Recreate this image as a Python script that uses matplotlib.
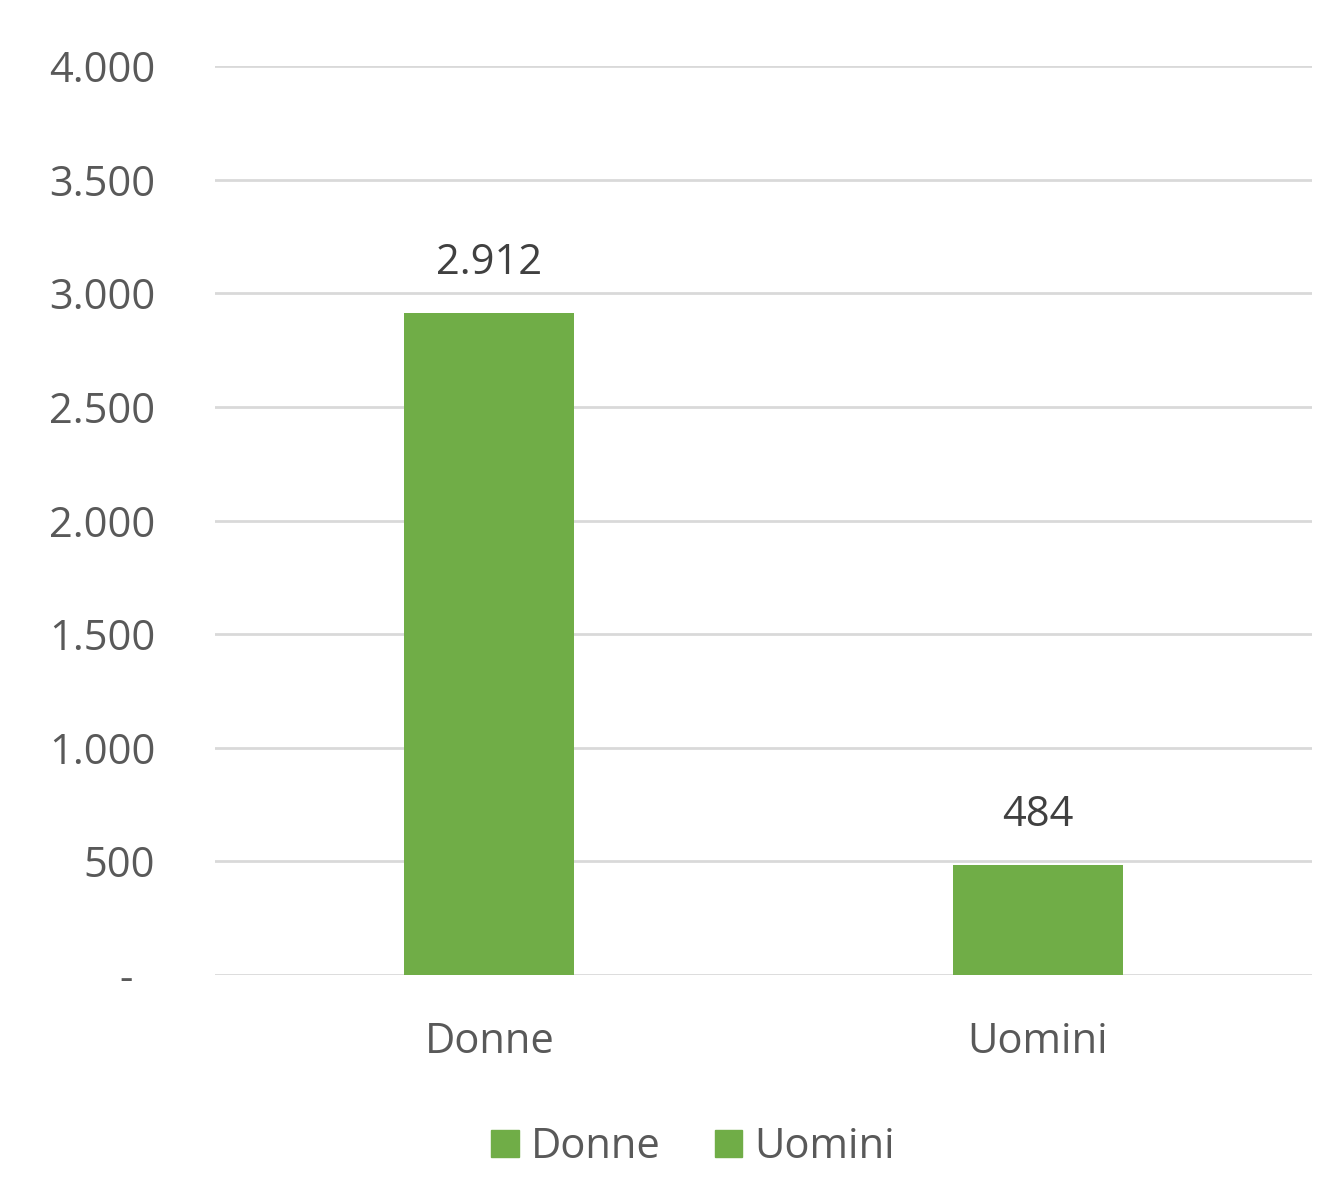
import matplotlib
matplotlib.use("Agg")
import matplotlib.pyplot as plt
from matplotlib.ticker import FuncFormatter
from matplotlib.patches import Patch

categories = ["Donne", "Uomini"]
values = [2912, 484]
yticks = [0, 500, 1000, 1500, 2000, 2500, 3000, 3500, 4000]

green = "#70AD47"
txt = "#595959"
plt.rcParams['font.family'] = ['Open Sans', 'DejaVu Sans']

fig = plt.figure(figsize=(13.36, 11.95), dpi=100)
ax = fig.add_axes([0.161, 0.184, 0.821, 0.7608])

x = list(range(len(categories)))
bars = ax.bar(x, values, width=0.31, color=green, zorder=3)
ax.set_xlim(-0.5, 1.5)
ax.set_ylim(0, 4000)
ax.set_yticks(yticks)

def fmt(v, p):
    if v == 0:
        return "-  "
    return f"{int(v):,}".replace(",", ".")

ax.yaxis.set_major_formatter(FuncFormatter(fmt))
ax.set_xticks(x)
ax.set_xticklabels(categories)
ax.tick_params(axis='both', length=0, labelsize=30, colors=txt)
ax.tick_params(axis='y', pad=43)
ax.tick_params(axis='x', pad=33)
ax.grid(axis='y', color='#D9D9D9', linewidth=2, zorder=0)
for s in ax.spines.values():
    s.set_visible(False)

for b, v in zip(bars, values):
    ax.annotate(fmt(v, None), (b.get_x() + b.get_width() / 2, v),
                xytext=(0, 36), textcoords='offset points',
                ha='center', va='center', fontsize=30, color='#404040')

handles = [Patch(color=green, label=c) for c in categories]
fig.legend(handles=handles, loc='center', bbox_to_anchor=(0.519, 0.04), ncol=2,
           frameon=False, fontsize=30, labelcolor=txt, handlelength=0.65,
           handleheight=0.65, handletextpad=0.3, columnspacing=1.3)

fig.savefig("out.png", dpi=100)
